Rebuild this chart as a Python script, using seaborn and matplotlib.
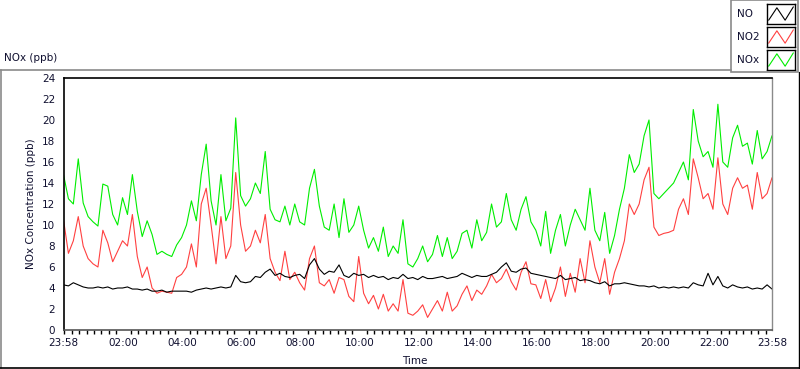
import numpy as np
import pandas as pd
import matplotlib
matplotlib.use('Agg')
import matplotlib.pyplot as plt
import seaborn as sns
from matplotlib.patches import Rectangle
from matplotlib.lines import Line2D

# minutes since 23:58, one reading every 10 minutes
minutes = np.arange(0, 1441, 10)

nox = [14.8, 12.5, 12.0, 16.3, 12.1, 10.8,
       10.3, 9.9, 13.9, 13.7, 11.0, 10.0,
       12.6, 11.0, 14.8, 11.3, 8.9, 10.4,
       9.1, 7.2, 7.5, 7.2, 7.0, 8.1,
       8.8, 10.0, 12.3, 10.4, 14.8, 17.7,
       12.3, 10.0, 14.8, 10.4, 11.6, 20.2,
       12.8, 11.8, 12.5, 14.0, 13.0, 17.0,
       11.5, 10.5, 10.3, 11.8, 10.0, 12.0,
       10.3, 10.0, 13.5, 15.3, 11.8, 9.8,
       9.5, 12.0, 8.8, 12.5, 9.3, 10.0,
       11.8, 9.5, 7.8, 8.8, 7.5, 9.8,
       7.0, 8.0, 7.3, 10.5, 6.3, 6.0,
       6.8, 8.0, 6.5, 7.2, 9.0, 7.0,
       8.8, 6.8, 7.5, 9.2, 9.5, 7.8,
       10.5, 8.5, 9.3, 12.0, 9.8, 10.3,
       13.0, 10.5, 9.5, 11.5, 12.7, 10.3,
       9.5, 8.0, 11.3, 7.3, 9.5, 11.0,
       8.0, 10.0, 11.5, 10.5, 9.5, 13.5,
       9.5, 8.5, 11.2, 7.3, 9.0, 11.5,
       13.5, 16.7, 15.0, 15.8, 18.5, 20.0,
       13.0, 12.5, 13.0, 13.5, 14.0, 15.0,
       16.0, 14.3, 21.0, 18.0, 16.5, 17.0,
       15.5, 21.5, 16.0, 15.5, 18.3, 19.5,
       17.5, 17.8, 15.8, 19.0, 16.3, 17.0,
       18.5]

no2 = [10.5, 7.3, 8.5, 10.8, 8.0, 6.8,
       6.3, 6.0, 9.5, 8.3, 6.5, 7.5,
       8.5, 8.0, 11.0, 7.0, 5.0, 6.0,
       4.0, 3.5, 3.7, 3.6, 3.5, 5.0,
       5.3, 6.0, 8.2, 6.0, 12.0, 13.5,
       10.0, 6.3, 10.8, 6.8, 8.0, 15.0,
       10.0, 7.5, 8.0, 9.5, 8.3, 11.0,
       6.8, 5.5, 4.7, 7.5, 4.8, 5.5,
       4.5, 3.8, 6.8, 8.0, 4.5, 4.2,
       4.8, 3.5, 5.0, 4.8, 3.2, 2.7,
       7.0, 3.5, 2.5, 3.3, 2.0, 3.4,
       1.8, 2.5, 1.8, 4.8, 1.6, 1.4,
       1.8, 2.4, 1.2, 2.0, 2.8, 1.8,
       3.6, 1.8, 2.3, 3.4, 4.2, 2.8,
       3.8, 3.4, 4.2, 5.3, 4.5, 4.9,
       5.8, 4.6, 3.8, 5.5, 6.5, 4.4,
       4.3, 3.0, 4.8, 2.7, 4.0, 6.0,
       3.2, 5.4, 3.6, 6.8, 4.5, 8.5,
       6.0, 4.5, 6.8, 3.4, 5.5, 6.8,
       8.5, 12.0, 11.0, 12.0, 14.3, 15.5,
       9.8, 9.0, 9.2, 9.3, 9.5, 11.5,
       12.5, 11.0, 16.3, 14.5, 12.5, 13.0,
       11.5, 16.4, 12.0, 11.0, 13.5, 14.5,
       13.5, 13.8, 11.5, 15.0, 12.5, 13.0,
       14.5]

no = [4.3, 4.2, 4.5, 4.3, 4.1, 4.0,
      4.0, 4.1, 4.0, 4.1, 3.9, 4.0,
      4.0, 4.1, 3.9, 3.9, 3.8, 3.9,
      3.7, 3.7, 3.8, 3.6, 3.7, 3.7,
      3.7, 3.7, 3.6, 3.8, 3.9, 4.0,
      3.9, 4.0, 4.1, 4.0, 4.1, 5.2,
      4.6, 4.5, 4.6, 5.1, 5.0, 5.5,
      5.8, 5.2, 5.4, 5.1, 5.0, 5.2,
      5.3, 4.9, 6.2, 6.8, 5.8, 5.3,
      5.6, 5.5, 6.2, 5.2, 5.0, 5.4,
      5.2, 5.3, 5.0, 5.2, 5.0, 5.1,
      4.8, 5.0, 4.9, 5.3, 4.9, 5.0,
      4.8, 5.1, 4.9, 4.9, 5.0, 5.1,
      4.9, 5.0, 5.1, 5.4, 5.2, 5.0,
      5.2, 5.1, 5.1, 5.3, 5.5, 6.0,
      6.4, 5.6, 5.5, 5.8, 5.9, 5.4,
      5.3, 5.2, 5.1, 5.0, 4.9, 5.2,
      4.8, 4.9, 5.0, 4.7, 4.8, 4.7,
      4.5, 4.4, 4.6, 4.2, 4.4, 4.4,
      4.5, 4.4, 4.3, 4.2, 4.2, 4.1,
      4.2, 4.0, 4.1, 4.0, 4.1, 4.0,
      4.1, 4.0, 4.5, 4.3, 4.2, 5.4,
      4.3, 5.1, 4.2, 4.0, 4.3, 4.1,
      4.0, 4.1, 3.9, 4.0, 3.9, 4.3,
      3.9]

x_tick_pos = [0, 122, 242, 362, 482, 602, 722, 842, 962, 1082, 1202, 1322, 1440]
x_tick_labels = ['23:58', '02:00', '04:00', '06:00', '08:00', '10:00', '12:00',
                 '14:00', '16:00', '18:00', '20:00', '22:00', '23:58']
y_ticks = list(range(0, 25, 2))

series_names = ['NO', 'NO2', 'NOx']
series_colors = ['#000000', '#ff4040', '#00ee00']

df = pd.DataFrame({'minutes': minutes, 'NO': no, 'NO2': no2, 'NOx': nox})

sns.set_style('white')
plt.rcParams['font.family'] = ['DejaVu Sans']

W, H = 800, 369
fig = plt.figure(figsize=(W / 100, H / 100), dpi=100)


def fx(px):
    return px / W


def fy(py):
    return 1 - py / H


# outer panel frame
fig.add_artist(Line2D([fx(0), fx(731)], [fy(69.5), fy(69.5)], color='#8a8a8a', lw=1.2))
fig.add_artist(Line2D([fx(0.8), fx(0.8)], [fy(69.5), fy(368)], color='#8a8a8a', lw=1.2))
fig.add_artist(Line2D([fx(0), fx(798.5)], [fy(367.5), fy(367.5)], color='#000000', lw=1.2))
fig.add_artist(Line2D([fx(798.5), fx(798.5)], [fy(72), fy(368)], color='#000000', lw=1.0))

# legend panel
fig.add_artist(Rectangle((fx(730.5), fy(72)), fx(67), 72 / H, fill=False,
                         edgecolor='#8a8a8a', lw=1.2))

ax = fig.add_axes([fx(63.5), fy(330), fx(772 - 63.5), (330 - 78) / H])

# draw NOx first so NO sits on top
for name in ['NOx', 'NO2', 'NO']:
    col = series_colors[series_names.index(name)]
    sns.lineplot(data=df, x='minutes', y=name, ax=ax, color=col,
                 linewidth=0.8, estimator=None)

ax.set_xlim(0, 1440)
ax.set_ylim(0, 24)
ax.set_xticks(x_tick_pos)
ax.set_xticklabels(x_tick_labels)
ax.set_xticks(np.arange(2, 1440, 15), minor=True)
ax.set_yticks(y_ticks)
ax.set_yticklabels([str(v) for v in y_ticks])
ax.tick_params(axis='both', which='major', direction='out', length=4, width=1,
               color='#000000', labelsize=7.5, labelcolor='#101030', pad=2)
ax.tick_params(axis='x', which='minor', direction='out', length=3, width=1,
               color='#000000', bottom=True)
ax.set_xlabel('')
ax.set_ylabel('')
for side in ['top', 'left']:
    ax.spines[side].set_color('#000000')
    ax.spines[side].set_linewidth(1.2)
ax.spines['bottom'].set_color('#555555')
ax.spines['bottom'].set_linewidth(1.2)
ax.spines['right'].set_color('#8a8a8a')
ax.spines['right'].set_linewidth(1.0)

fig.text(fx(4), fy(58), 'NOx (ppb)', fontsize=7.5, color='#101030', va='center', ha='left')
fig.text(fx(31), fy(204), 'NOx Concentration (ppb)', fontsize=7.5, color='#101030',
         rotation=90, va='center', ha='center')
fig.text(fx(415), fy(361), 'Time', fontsize=7.5, color='#101030', va='center', ha='center')

# legend entries with zigzag swatches
legend_zigzag = [0.2, 0.85, 0.2, 0.9]
for i, name in enumerate(series_names):
    top = 4 + i * 23
    fig.text(fx(737), fy(top + 10), name, fontsize=7.5, color='#101030',
             va='center', ha='left')
    sw = fig.add_axes([fx(767), fy(top + 20), fx(28), 20 / H])
    sw.plot([0, 1, 2, 3], legend_zigzag, color=series_colors[i], lw=0.8)
    sw.set_xlim(-0.2, 3.2)
    sw.set_ylim(0, 1.05)
    sw.set_xticks([])
    sw.set_yticks([])
    for s in sw.spines.values():
        s.set_color('#000000')
        s.set_linewidth(1.0)

fig.savefig('out.png', dpi=100)
